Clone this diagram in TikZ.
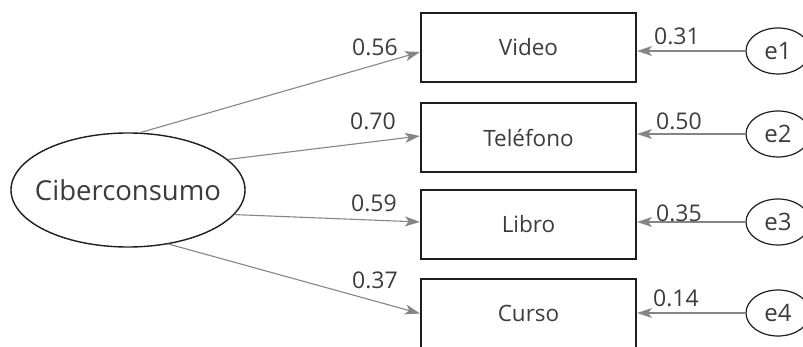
\documentclass[tikz,border=0pt]{standalone}
\usepackage{fontspec}
\setmainfont{Open Sans}
\usetikzlibrary{shapes.geometric,arrows.meta}
\definecolor{txt}{HTML}{3C3C3C}
\definecolor{arr}{HTML}{858585}
\definecolor{brd}{HTML}{1E1E1E}
\begin{document}
\begin{tikzpicture}[x=1pt,y=-1pt,
  lat/.style={ellipse,draw=brd,line width=1.4pt,minimum width=234pt,minimum height=114pt,inner sep=0pt,text=txt,font=\fontsize{27.5}{30}\selectfont},
  obs/.style={rectangle,draw=brd,line width=2.2pt,minimum width=215pt,minimum height=69pt,inner sep=0pt,text=txt,font=\fontsize{22.5}{24}\selectfont},
  err/.style={ellipse,draw=brd,line width=1.2pt,minimum width=64pt,minimum height=46pt,inner sep=0pt,text=txt,font=\fontsize{24}{26}\selectfont},
  arw/.style={draw=arr,line width=1.1pt,-{Stealth[length=15pt,width=10pt,inset=4pt]}},
  num/.style={text=txt,font=\fontsize{23}{24}\selectfont,inner sep=0pt}
]
\useasboundingbox (0,0) rectangle (803,347);
\clip (0,0) rectangle (803,347);

\node[lat] (cib) at (128,190) {\makebox[0pt]{Ciberconsumo}};

\node[obs] (vid) at (528.5,47.5) {Video};
\node[obs] (tel) at (528.5,137.5) {Teléfono};
\node[obs] (lib) at (528.5,224.5) {Libro};
\node[obs] (cur) at (528.5,313.5) {Curso};

\node[err] (e1) at (778,51) {\makebox[0pt]{e1}};
\node[err] (e2) at (778,134) {\makebox[0pt]{e2}};
\node[err] (e3) at (778,222) {\makebox[0pt]{e3}};
\node[err] (e4) at (778,313) {\makebox[0pt]{e4}};

\draw[arw] (cib.78) -- ([yshift=-4.5pt]vid.west);
\draw[arw] (cib.17.7) -- ([yshift=1.5pt]tel.west);
\draw[arw] (cib.-13) -- ([yshift=2.5pt]lib.west);
\draw[arw] (cib.-53.6) -- (cur.west);

\draw[arw] (e1.west) -- (vid.east |- e1.west);
\draw[arw] (e2.west) -- (tel.east |- e2.west);
\draw[arw] (e3.west) -- (lib.east |- e3.west);
\draw[arw] (e4.west) -- (cur.east |- e4.west);

\node[num] (l1) at (375,47) {0.56};
\node[num] (l2) at (373,121) {0.70};
\node[num] (l3) at (374,203) {0.59};
\node[num] (l4) at (375,280) {0.37};

\node[num] (r1) at (677,36) {0.31};
\node[num] (r2) at (679,121) {0.50};
\node[num] (r3) at (679,213) {0.35};
\node[num] (r4) at (676,298) {0.14};
\end{tikzpicture}
\end{document}
